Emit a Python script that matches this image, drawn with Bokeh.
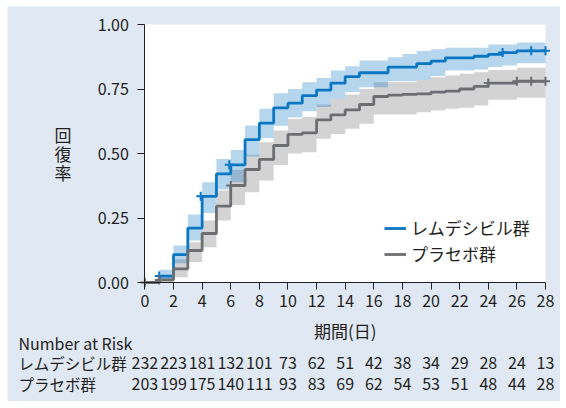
from bokeh.plotting import figure
from bokeh.models import (Range1d, FixedTicker, NumeralTickFormatter,
                          Legend, LegendItem, BoxAnnotation)
from bokeh.core.properties import value
from bokeh.embed import file_html
from bokeh.resources import INLINE

# ---------------- data ----------------
interval_start = list(range(28))  # day at which each step interval starts

remdesivir = [0.0, 0.025, 0.108, 0.211, 0.334, 0.421, 0.456, 0.554, 0.618, 0.677,
              0.695, 0.724, 0.746, 0.773, 0.798, 0.813, 0.813, 0.835, 0.835, 0.848,
              0.858, 0.871, 0.871, 0.877, 0.884, 0.891, 0.898, 0.898]
rem_lo = [0.0, 0.008, 0.075, 0.163, 0.269, 0.360, 0.389, 0.488, 0.560, 0.608,
          0.640, 0.664, 0.680, 0.712, 0.738, 0.757, 0.757, 0.780, 0.780, 0.785,
          0.800, 0.822, 0.822, 0.826, 0.835, 0.841, 0.850, 0.850]
rem_hi = [0.0, 0.049, 0.143, 0.264, 0.389, 0.479, 0.514, 0.609, 0.673, 0.734,
          0.750, 0.776, 0.793, 0.822, 0.838, 0.860, 0.860, 0.873, 0.886, 0.897,
          0.904, 0.910, 0.910, 0.910, 0.922, 0.922, 0.930, 0.930]

placebo = [0.0, 0.010, 0.053, 0.124, 0.190, 0.296, 0.376, 0.438, 0.477, 0.531,
           0.574, 0.580, 0.630, 0.650, 0.669, 0.690, 0.721, 0.726, 0.729, 0.731,
           0.738, 0.742, 0.750, 0.760, 0.773, 0.773, 0.780, 0.780]
pla_lo = [0.0, 0.0, 0.020, 0.079, 0.137, 0.240, 0.300, 0.350, 0.395, 0.455,
          0.500, 0.505, 0.557, 0.576, 0.596, 0.615, 0.651, 0.651, 0.651, 0.660,
          0.667, 0.673, 0.677, 0.686, 0.708, 0.708, 0.716, 0.716]
pla_hi = [0.0, 0.030, 0.090, 0.156, 0.240, 0.357, 0.437, 0.495, 0.544, 0.589,
          0.634, 0.641, 0.690, 0.712, 0.729, 0.750, 0.776, 0.776, 0.776, 0.785,
          0.796, 0.802, 0.809, 0.815, 0.824, 0.824, 0.832, 0.832]

rem_censor_day = [1, 3.9, 5.9, 25, 27, 28]
rem_censor_val = [0.025, 0.334, 0.456, 0.891, 0.898, 0.898]
pla_censor_day = [0, 1, 6, 24, 26, 27, 28]
pla_censor_val = [0.0, 0.010, 0.376, 0.773, 0.780, 0.780, 0.780]

risk_days = [0, 2, 4, 6, 8, 10, 12, 14, 16, 18, 20, 22, 24, 26, 28]
rem_risk = [232, 223, 181, 132, 101, 73, 62, 51, 42, 38, 34, 29, 28, 24, 13]
pla_risk = [203, 199, 175, 140, 111, 93, 83, 69, 62, 54, 53, 51, 48, 44, 28]

y_ticks = [0.0, 0.25, 0.50, 0.75, 1.0]
rem_name = "レムデシビル群"
pla_name = "プラセボ群"
x_title = "期間(日)"
y_title = "回復率"
risk_title = "Number at Risk"

# ---------------- style / layout constants (page pixels) ----------------
FONT = "Noto Sans CJK JP"
BG = "#E0E8F4"
BLUE = "#0B77C3"
GRAY = "#6D6E72"
TXT = "#231F20"

PANEL_L, PANEL_T, PANEL_R, PANEL_B = 7, 6, 560, 401
DAY0_PX, DAY28_PX = 144.4, 545.0     # x of day 0 / day 28
V0_PX, V1_PX = 282.0, 24.0           # y of 0.00 / 1.00
PX_DAY = (DAY28_PX - DAY0_PX) / 28
PX_UNIT = V0_PX - V1_PX


def dx(px):
    return (px - DAY0_PX) / PX_DAY


def dy(py):
    return (V0_PX - py) / PX_UNIT


p = figure(width=PANEL_R - PANEL_L, height=PANEL_B - PANEL_T,
           output_backend="svg", toolbar_location=None,
           x_range=Range1d(dx(PANEL_L), dx(PANEL_R)),
           y_range=Range1d(dy(PANEL_B), dy(PANEL_T)), min_border=0)
p.margin = (PANEL_T, 0, 0, PANEL_L)
p.background_fill_color = BG
p.border_fill_color = BG
p.outline_line_color = None
p.grid.visible = False

# white plotting area
p.add_layout(BoxAnnotation(left=0, right=28, bottom=0, top=1, fill_color="white",
                           fill_alpha=1, line_color=None, level="underlay"))

step_x = interval_start + [28]


def ext(v):
    return v + [v[-1]]


p.varea_step(x=step_x, y1=ext(pla_lo), y2=ext(pla_hi), step_mode="after",
             fill_color=GRAY, fill_alpha=0.3)
p.varea_step(x=step_x, y1=ext(rem_lo), y2=ext(rem_hi), step_mode="after",
             fill_color=BLUE, fill_alpha=0.3)

r_blue = p.step(step_x, ext(remdesivir), mode="after", line_color=BLUE, line_width=2.8)
r_gray = p.step(step_x, ext(placebo), mode="after", line_color=GRAY, line_width=2.8)
p.scatter(rem_censor_day, rem_censor_val, marker="cross", size=9,
          line_color=BLUE, line_width=2)
p.scatter(pla_censor_day, pla_censor_val, marker="cross", size=9,
          line_color=GRAY, line_width=2)

xa = p.xaxis[0]
ya = p.yaxis[0]
xa.ticker = FixedTicker(ticks=risk_days)
ya.ticker = FixedTicker(ticks=y_ticks)
ya.formatter = NumeralTickFormatter(format="0.00")
xa.fixed_location = 0
ya.fixed_location = 0
xa.bounds = (0, 28)
ya.bounds = (0, 1)
for ax in (xa, ya):
    ax.major_tick_out = 7
    ax.major_tick_in = 0
    ax.minor_tick_line_color = None
    ax.axis_line_color = TXT
    ax.major_tick_line_color = TXT
    ax.major_label_text_font = FONT
    ax.major_label_text_font_size = "16px"
    ax.major_label_text_color = TXT
xa.major_label_standoff = 5
ya.major_label_standoff = 9

legend = Legend(items=[LegendItem(label=rem_name, renderers=[r_blue]),
                       LegendItem(label=pla_name, renderers=[r_gray])],
                location=(384 - PANEL_L, PANEL_B - 266), orientation="vertical",
                padding=0, margin=0, spacing=1, glyph_width=22, glyph_height=20,
                label_height=20, label_standoff=5, label_text_font=FONT,
                label_text_font_size="17px", label_text_color=TXT,
                border_line_color=None, background_fill_alpha=0)
p.add_layout(legend)

# y title, stacked characters
p.text(x=[dx(62.5)] * len(y_title), y=[dy(134 + 19 * i) for i in range(len(y_title))],
       text=list(y_title), text_align="center", text_baseline="middle",
       text_font=value(FONT), text_font_size=value("17px"), text_color=TXT)

# x title
p.text(x=[14], y=[dy(330)], text=[x_title], text_align="center",
       text_baseline="middle", text_font=value(FONT), text_font_size=value("17px"),
       text_color=TXT)

# number at risk table
left_x = dx(18)
row_title_y, row1_y, row2_y = dy(342), dy(362.5), dy(383.5)
p.text(x=[left_x], y=[row_title_y], text=[risk_title], text_align="left",
       text_baseline="middle", text_font=value(FONT), text_font_size=value("16px"),
       text_color=TXT)
p.text(x=[left_x] * 2, y=[row1_y, row2_y], text=[rem_name, pla_name],
       text_align="left", text_baseline="middle", text_font=value(FONT),
       text_font_size=value("15.5px"), text_color=TXT)
for row_y, counts in ((row1_y, rem_risk), (row2_y, pla_risk)):
    p.text(x=risk_days, y=[row_y] * len(risk_days), text=[str(c) for c in counts],
           text_align="center", text_baseline="middle", text_font=value(FONT),
           text_font_size=value("16px"), text_color=TXT)

open("out.html", "w").write(file_html(p, INLINE))
